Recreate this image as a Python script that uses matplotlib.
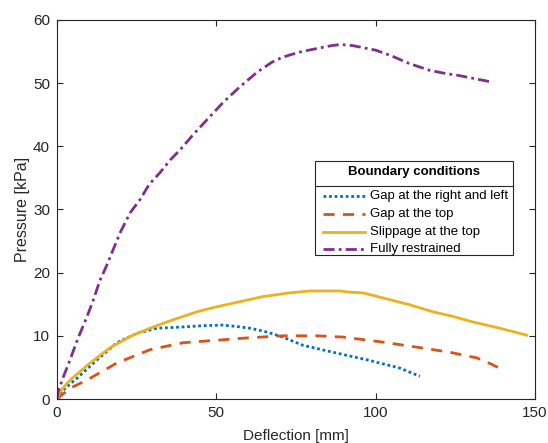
import matplotlib
matplotlib.use("Agg")
import matplotlib.pyplot as plt
from matplotlib.lines import Line2D
from matplotlib.patches import Rectangle

plt.rcParams['font.family'] = ['Liberation Sans', 'DejaVu Sans']

# Fully restrained
full_x = [0, 0.5, 2.0, 4.1, 6.5, 9.4, 11.5, 13.5, 15.5, 17.6, 20, 23, 26.0, 29, 32.3, 35.5, 38.6, 42.7, 47.1, 52.1, 57.4, 62.8, 67.5, 70.9, 76.2, 82, 86, 89, 93, 97, 100, 105, 110, 114, 117, 122, 126, 130, 133, 136]
full_y = [0, 1.4, 3.5, 6.2, 9.5, 13.0, 15.8, 18.8, 21.0, 23.6, 26.5, 29.5, 31.5, 34.0, 35.8, 37.8, 39.4, 41.8, 44.2, 46.9, 49.4, 51.7, 53.3, 54.1, 54.9, 55.5, 55.9, 56.1, 55.9, 55.5, 55.2, 54.3, 53.2, 52.5, 52.0, 51.5, 51.2, 50.8, 50.5, 50.2]

# Slippage at the top
slip_x = [0, 1, 4.1, 10.4, 16.6, 23.8, 29.2, 34.5, 43.9, 50.2, 57.4, 64.6, 73.1, 79.4, 88.8, 91.9, 96.0, 102.3, 110.8, 118.0, 124, 130.5, 139.0, 147.5]
slip_y = [0, 1.2, 3.0, 5.7, 8.1, 10.1, 11.2, 12.2, 13.8, 14.6, 15.4, 16.2, 16.8, 17.1, 17.1, 16.9, 16.8, 16.0, 14.9, 13.8, 13.1, 12.2, 11.2, 10.1]

# Gap at the right and left
gaprl_x = [0, 1.9, 6.3, 12.6, 18.8, 25.1, 31.4, 39.5, 45.8, 51.8, 56, 60.6, 65.9, 70.9, 77.2, 86.6, 97.3, 107.6, 113.9]
gaprl_y = [0, 1.4, 3.3, 6.2, 8.9, 10.4, 11.2, 11.4, 11.6, 11.7, 11.5, 11.2, 10.6, 9.8, 8.5, 7.4, 6.2, 4.9, 3.6]

# Gap at the top
gapt_x = [0, 4.1, 9.4, 18.8, 29.2, 39.5, 50.2, 60.6, 70.9, 81.6, 89.7, 102.3, 113.0, 123.3, 131.8, 136, 140.0]
gapt_y = [0, 1.7, 3.0, 5.7, 7.8, 8.9, 9.3, 9.7, 10.0, 10.0, 9.8, 9.0, 8.2, 7.4, 6.5, 5.6, 4.6]

labels = ['Gap at the right and left', 'Gap at the top', 'Slippage at the top', 'Fully restrained']
legend_title = 'Boundary conditions'
xticks = [0, 50, 100, 150]
yticks = [0, 10, 20, 30, 40, 50, 60]

c_blue = '#0072BD'
c_orange = '#D95319'
c_yellow = '#EDB120'
c_purple = '#7E2F8E'
axcol = '#262626'

W, H = 548, 443
fig = plt.figure(figsize=(W / 100, H / 100), dpi=100)
ax = fig.add_axes([0.104, 0.0993, 0.872, 0.856])

lw = 2.0
styles = [
    dict(color=c_blue, lw=lw, linestyle=(0, (1, 1))),
    dict(color=c_orange, lw=lw, linestyle=(0, (4, 3))),
    dict(color=c_yellow, lw=lw, linestyle='-'),
    dict(color=c_purple, lw=lw, linestyle=(0, (4, 1.5, 1, 1.5))),
]
series = [(gaprl_x, gaprl_y), (gapt_x, gapt_y), (slip_x, slip_y), (full_x, full_y)]
for (xs, ys), st, lab in zip(series, styles, labels):
    ax.plot(xs, ys, label=lab, **st)

ax.set_xlim(0, 150)
ax.set_ylim(0, 60)
ax.set_xticks(xticks)
ax.set_yticks(yticks)
ax.tick_params(direction='in', top=True, right=True, length=4, width=0.8,
               labelsize=11, colors=axcol, pad=5)
for s in ax.spines.values():
    s.set_color(axcol)
    s.set_linewidth(0.8)
ax.set_xlabel('Deflection [mm]', fontsize=11, color=axcol, labelpad=6.5)
ax.set_ylabel('Pressure [kPa]', fontsize=11.5, color=axcol, labelpad=2)

# Manual legend (MATLAB style with title separator), in figure pixel layout
def fx(px):
    return px / W

def fy(py):
    return 1 - py / H

bx0, bx1, by0, by1 = 315, 513, 161, 255
fig.add_artist(Rectangle((fx(bx0), fy(by1)), fx(bx1) - fx(bx0), fy(by0) - fy(by1),
                         transform=fig.transFigure, facecolor='white', edgecolor=axcol,
                         lw=0.8, zorder=5))
fig.text(fx((bx0 + bx1) / 2), fy(172.5), legend_title, ha='center', va='center',
         fontsize=9.5, fontweight='bold', color='black', zorder=6)
fig.add_artist(Line2D([fx(bx0), fx(bx1)], [fy(186), fy(186)], transform=fig.transFigure,
                      color=axcol, lw=0.8, zorder=6))
item_y = [195.5, 213.5, 231.5, 249.5]
for yy, st, lab in zip(item_y, styles, labels):
    fig.add_artist(Line2D([fx(323), fx(365)], [fy(yy), fy(yy)], transform=fig.transFigure,
                          zorder=6, **st))
    fig.text(fx(370), fy(yy), lab, ha='left', va='center', fontsize=9.5,
             color='black', zorder=6)

fig.savefig('out.png', dpi=100)
